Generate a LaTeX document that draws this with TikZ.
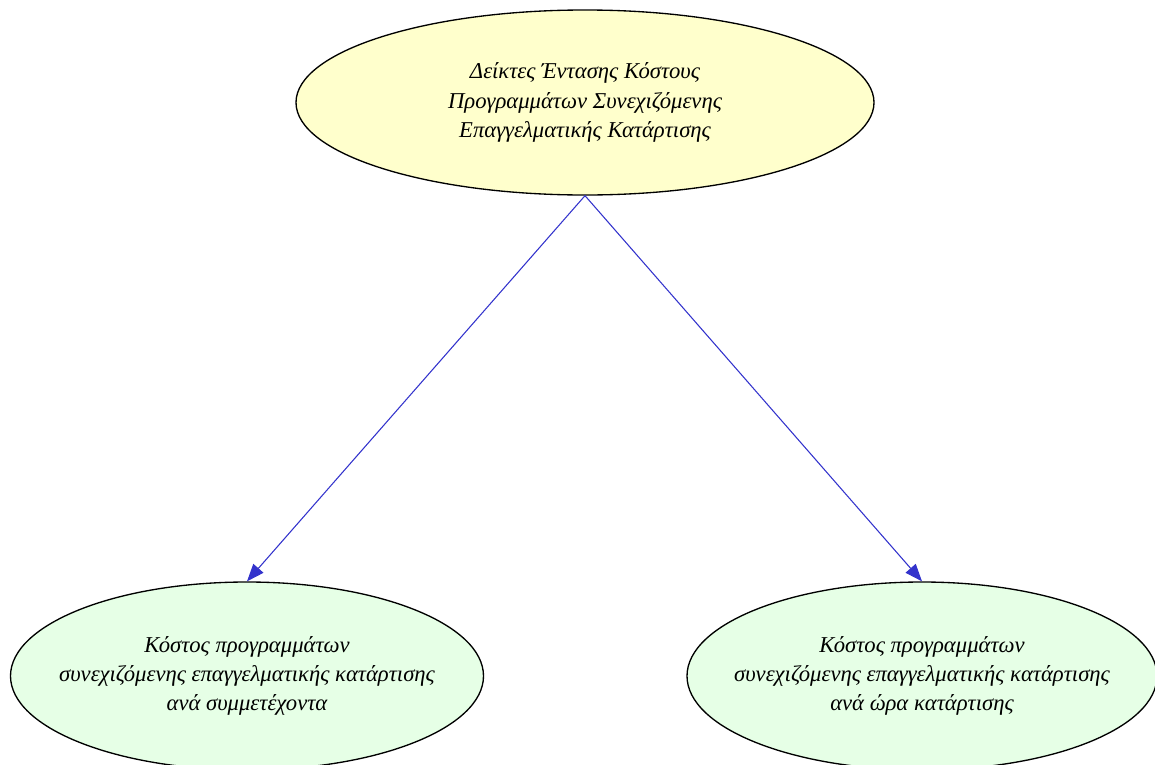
\documentclass[tikz,border=0pt]{standalone}
\usepackage{fontspec}
\setmainfont{Liberation Serif}
\usetikzlibrary{shapes.geometric,arrows.meta}
\definecolor{topfill}{RGB}{255,255,204}
\definecolor{leaffill}{RGB}{230,255,230}
\definecolor{edgeblue}{RGB}{51,51,204}
\tikzset{
  px/.style={x=0.75pt,y=-0.75pt},
  ell/.style={ellipse,draw=black,line width=1pt,inner sep=0pt},
  txt/.style={align=center,font=\fontsize{17}{22}\selectfont\itshape},
  edge/.style={draw=edgeblue,line width=0.8pt,-{Triangle[length=13pt,width=10pt]}},
}
\begin{document}
\begin{tikzpicture}[px]
\useasboundingbox (0,0) rectangle (1155,764);
\node[ell,fill=topfill,minimum width=433.5pt,minimum height=138.75pt,
  label={[txt]center:{Δείκτες Έντασης Κόστους\\Προγραμμάτων Συνεχιζόμενης\\Επαγγελματικής Κατάρτισης}}]
  (top) at (585,102.5) {};
\node[ell,fill=leaffill,minimum width=354.75pt,minimum height=141pt,
  label={[txt]center:{Κόστος προγραμμάτων\\συνεχιζόμενης επαγγελματικής κατάρτισης\\ανά συμμετέχοντα}}]
  (left) at (247,676) {};
\node[ell,fill=leaffill,minimum width=352.5pt,minimum height=141pt,
  label={[txt]center:{Κόστος προγραμμάτων\\συνεχιζόμενης επαγγελματικής κατάρτισης\\ανά ώρα κατάρτισης}}]
  (right) at (922,676) {};
\draw[edge] (top.south) -- (left.north);
\draw[edge] (top.south) -- (right.north);
\end{tikzpicture}
\end{document}
